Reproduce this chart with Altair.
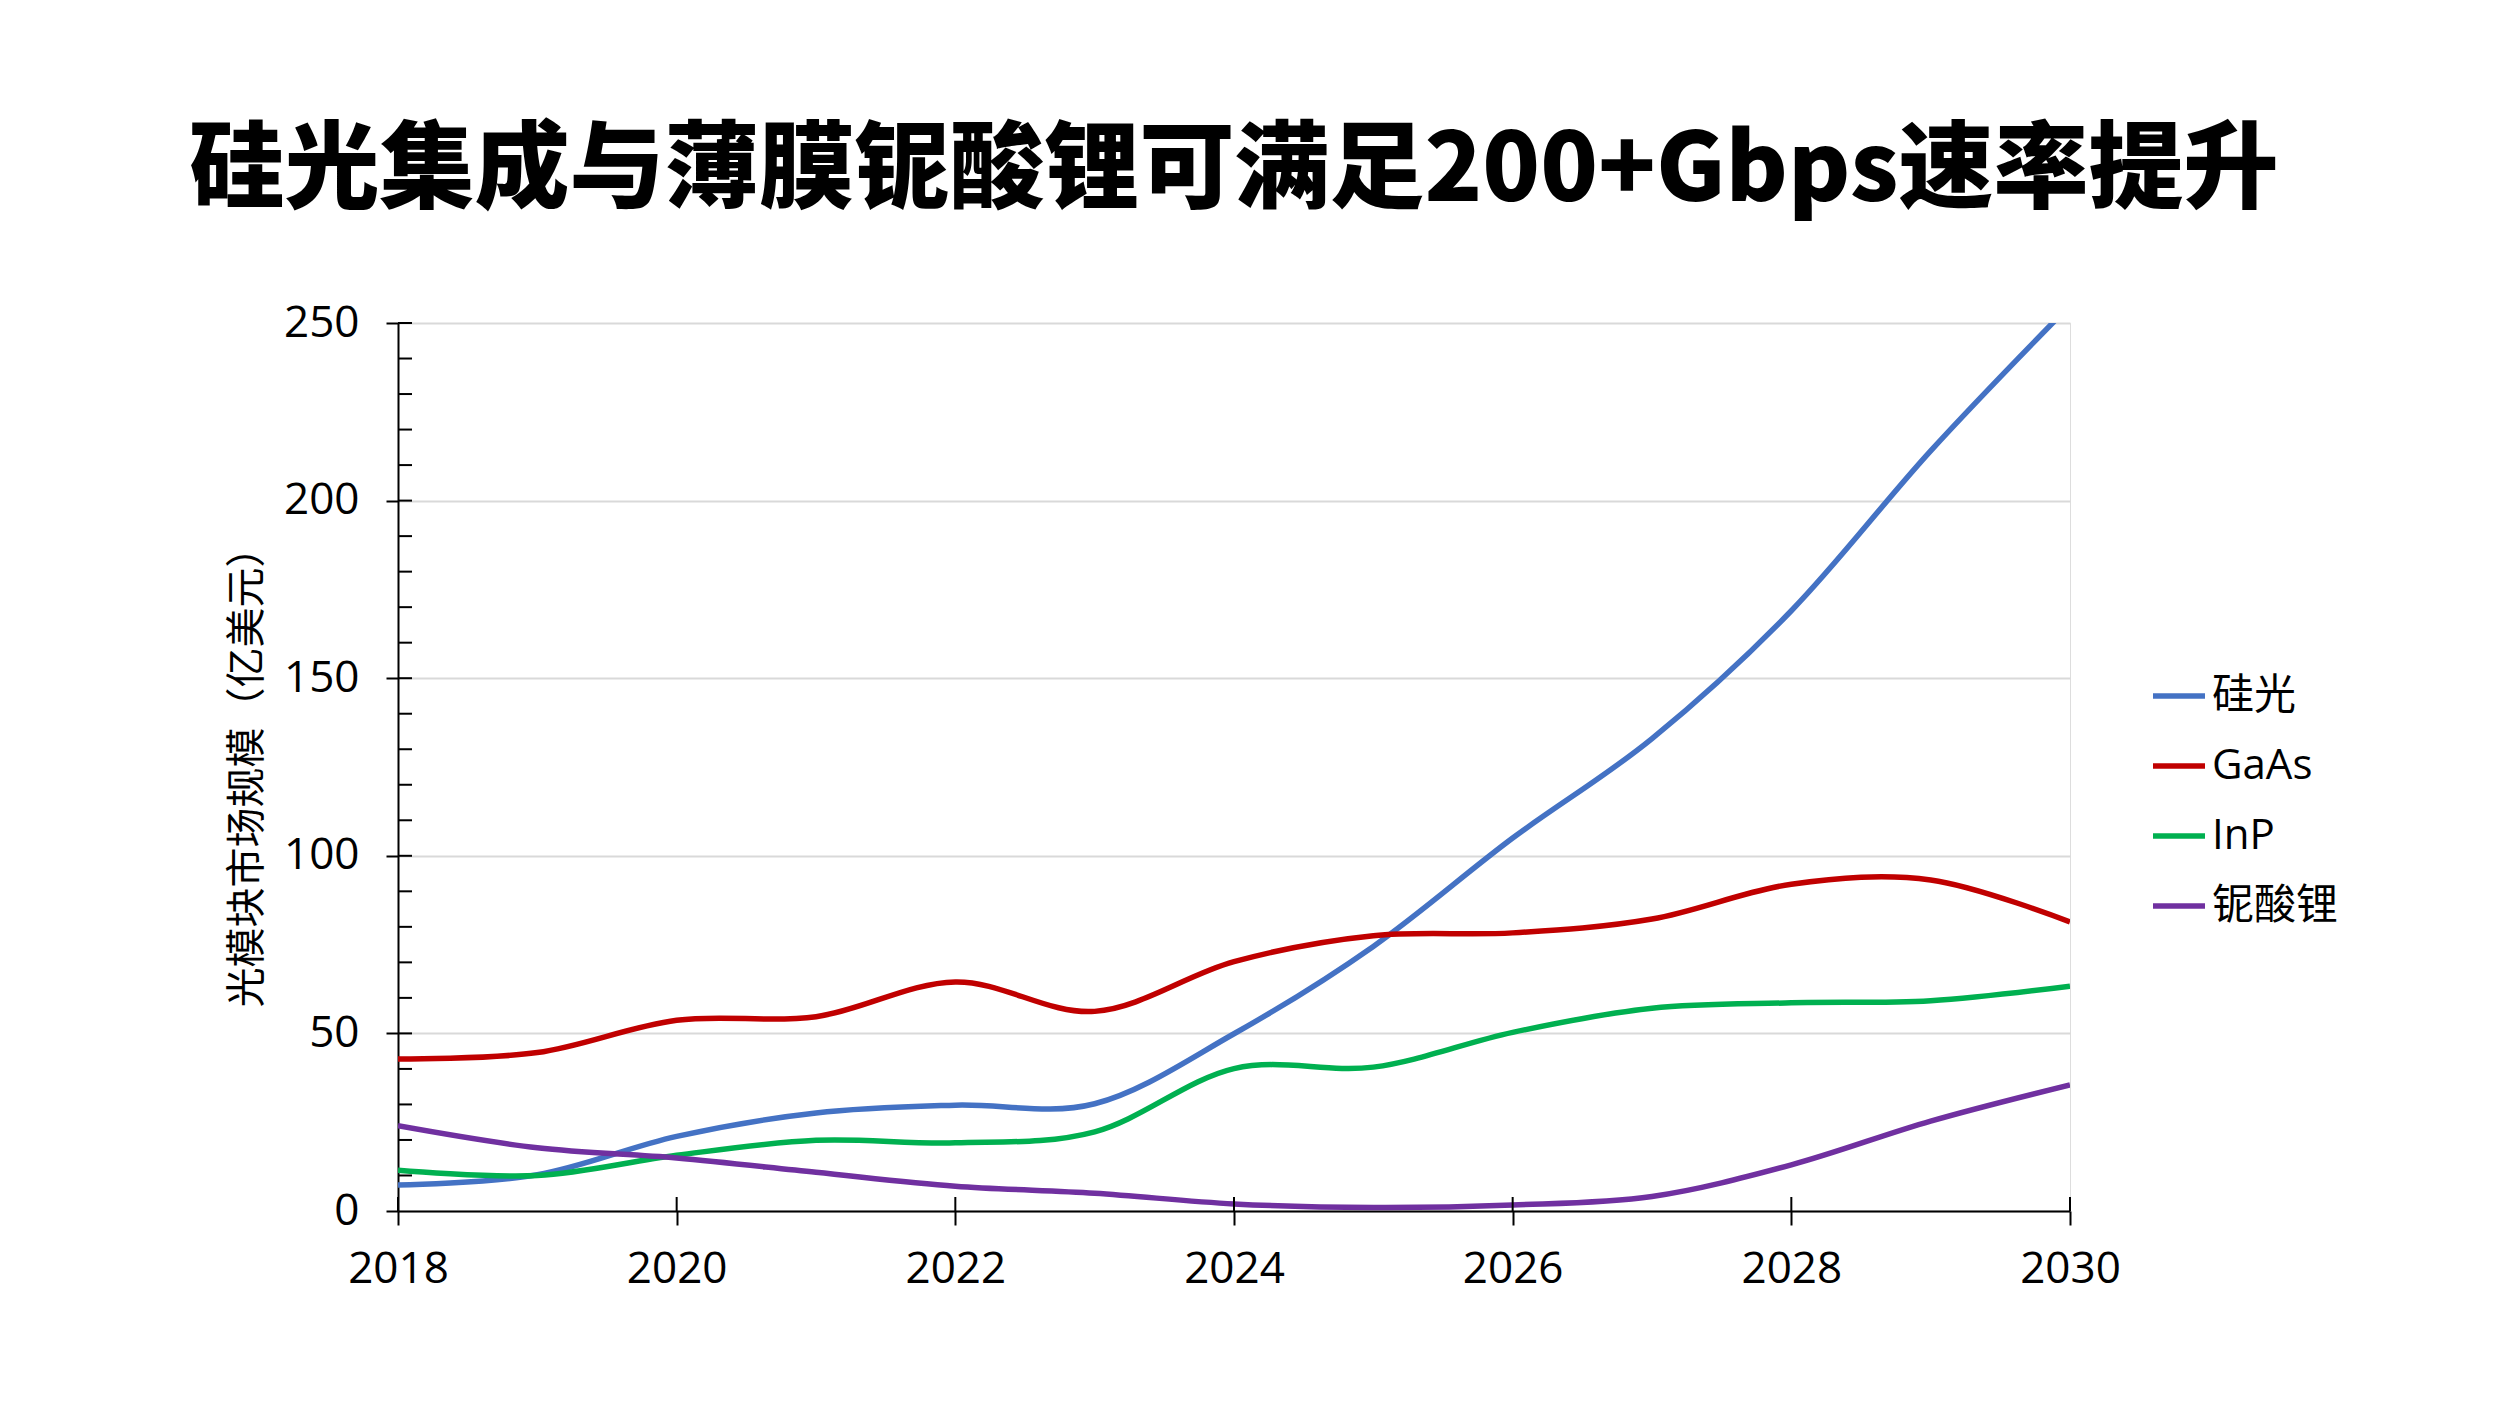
import altair as alt
import pandas as pd

years = list(range(2018, 2031))
series_names = ["硅光", "GaAs", "InP", "铌酸锂"]
series_colors = ["#4472C4", "#C00000", "#00B050", "#7030A0"]
si = [7.3, 10.2, 21.0, 27.6, 29.8, 30.2, 49.9, 74.5, 105, 133, 169, 214, 255]
gaas = [42.8, 44.6, 53.7, 54.7, 64.5, 56.2, 70.2, 77.5, 78.3, 82.2, 92.0, 93.2, 81.4]
inp = [11.5, 10.0, 15.7, 19.9, 19.2, 22.3, 40.1, 40.5, 50.3, 57.1, 58.6, 59.2, 63.3]
ln = [24.0, 17.8, 14.9, 10.9, 7.0, 5.0, 2.0, 1.0, 1.7, 4.1, 13.0, 25.3, 35.5]
x_ticks = [2018, 2020, 2022, 2024, 2026, 2028, 2030]
y_ticks = [0, 50, 100, 150, 200, 250]
y_minor = list(range(10, 251, 10))

title = "硅光集成与薄膜铌酸锂可满足200+Gbps速率提升"
y_title = "光模块市场规模（亿美元）"

rows = []
for name, vals in zip(series_names, [si, gaas, inp, ln]):
    for yr, v in zip(years, vals):
        rows.append({"year": yr, "value": v, "series": name})
df = pd.DataFrame(rows)

W, H = 1672, 888
FONT = "Open Sans, Noto Sans CJK SC"

xscale = alt.Scale(domain=[2018, 2030], nice=False, zero=False)
yscale = alt.Scale(domain=[0, 250], nice=False)

lines = alt.Chart(df).mark_line(strokeWidth=5.5, interpolate="cardinal", clip=True).encode(
    x=alt.X("year:Q", scale=xscale,
            axis=alt.Axis(values=x_ticks, format="d", title=None, grid=False,
                          tickSize=14, tickWidth=2, tickColor="black",
                          domainColor="black", domainWidth=2,
                          labelFontSize=44, labelFont=FONT, labelColor="black",
                          labelPadding=22, labelFlush=False)),
    y=alt.Y("value:Q", scale=yscale,
            axis=alt.Axis(values=y_ticks, title=y_title, grid=True, gridColor="#D9D9D9", gridWidth=2,
                          tickSize=12, tickWidth=2, tickColor="black",
                          domainColor="black", domainWidth=2,
                          labelFontSize=44, labelFont=FONT, labelColor="black", labelPadding=27,
                          titleFontSize=40, titleFont=FONT, titleFontWeight="normal",
                          titleColor="black", titlePadding=16)),
    color=alt.Color("series:N",
                    scale=alt.Scale(domain=series_names, range=series_colors),
                    sort=series_names,
                    legend=alt.Legend(title=None, orient="none", legendX=1752, legendY=344,
                                      symbolType="stroke", symbolSize=2704, symbolStrokeWidth=5.5,
                                      labelFontSize=42, labelFont=FONT, labelColor="black",
                                      labelOffset=4, rowPadding=20)),
)

minor_df = pd.DataFrame({"v": y_minor})
minor = alt.Chart(minor_df).mark_rule(color="black", strokeWidth=2).encode(
    y=alt.Y("v:Q", scale=yscale),
    x=alt.value(0), x2=alt.value(14),
)

xin_df = pd.DataFrame({"yr": x_ticks})
xin = alt.Chart(xin_df).mark_rule(color="black", strokeWidth=2).encode(
    x=alt.X("yr:Q", scale=xscale),
    y=alt.value(H), y2=alt.value(H - 14),
)

chart = alt.layer(lines, minor, xin).properties(
    width=W, height=H,
    title=alt.TitleParams(title, fontSize=95, font="Noto Sans CJK SC", fontWeight=900,
                          color="black", anchor="middle", offset=80),
    autosize=alt.AutoSizeParams(type="none"),
    padding={"left": 390, "top": 315, "right": 400, "bottom": 170},
).configure_view(stroke=None).configure(background="white")

chart.save("out.html", embed_options={"renderer": "svg", "actions": False})
